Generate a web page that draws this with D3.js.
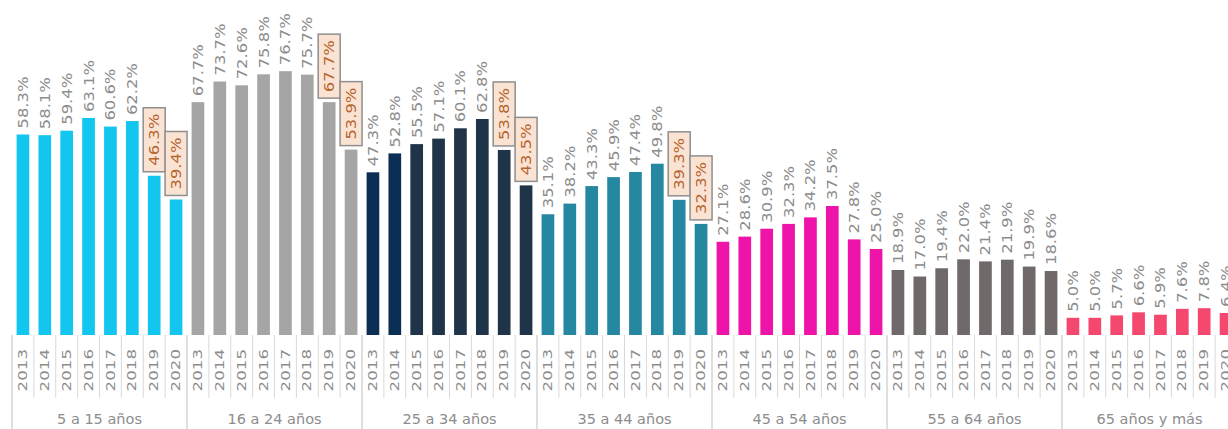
<!DOCTYPE html>
<html>
<head>
<meta charset="utf-8">
<script src="https://cdn.jsdelivr.net/npm/d3@7"></script>
<style>
  html, body { margin: 0; padding: 0; background: #ffffff; }
  svg { display: block; }
  text { font-family: "DejaVu Sans", "Noto Sans", sans-serif; }
</style>
</head>
<body>
<svg id="chart" width="1228" height="429"></svg>
<script>
// Age groups and survey years
const groups = ["5 a 15 años", "16 a 24 años", "25 a 34 años", "35 a 44 años",
                "45 a 54 años", "55 a 64 años", "65 años y más"];
const years = ["2013", "2014", "2015", "2016", "2017", "2018", "2019", "2020"];

// Percentage per year, one array per age group
const age5to15  = [58.3, 58.1, 59.4, 63.1, 60.6, 62.2, 46.3, 39.4];
const age16to24 = [67.7, 73.7, 72.6, 75.8, 76.7, 75.7, 67.7, 53.9];
const age25to34 = [47.3, 52.8, 55.5, 57.1, 60.1, 62.8, 53.8, 43.5];
const age35to44 = [35.1, 38.2, 43.3, 45.9, 47.4, 49.8, 39.3, 32.3];
const age45to54 = [27.1, 28.6, 30.9, 32.3, 34.2, 37.5, 27.8, 25.0];
const age55to64 = [18.9, 17.0, 19.4, 22.0, 21.4, 21.9, 19.9, 18.6];
const age65plus = [5.0, 5.0, 5.7, 6.6, 5.9, 7.6, 7.8, 6.4];
const series = [age5to15, age16to24, age25to34, age35to44, age45to54, age55to64, age65plus];

// Bar colour per age group
const groupColors = ["#12c6ef", "#a5a5a5", "#1f3449", "#2587a0", "#ef14a9", "#6f6969", "#f5486f"];
// The first two years of 25 a 34 años are drawn in a deeper navy
const navyYears25to34 = ["2013", "2014"];

// Labels shown in a highlighted box
const boxedGroups = ["5 a 15 años", "16 a 24 años", "25 a 34 años", "35 a 44 años"];
const boxedYears = ["2019", "2020"];

const rows = [];
groups.forEach((g, gi) => {
  years.forEach((y, yi) => {
    let color = groupColors[gi];
    if (g === "25 a 34 años" && navyYears25to34.includes(y)) color = "#0b2e55";
    rows.push({ group: g, year: y, value: series[gi][yi], color });
  });
});

const svg = d3.select("#chart");
const baseY = 335;

const xGroup = d3.scaleBand().domain(groups).range([12, 1237]).padding(0);
const xYear = d3.scaleBand().domain(years).range([0, xGroup.bandwidth()])
  .paddingInner(0.42).paddingOuter(0.21);
const y = d3.scaleLinear().domain([0, 97.4]).range([baseY, 0]);

const cx = d => xGroup(d.group) + xYear(d.year) + xYear.bandwidth() / 2;
const slot = xGroup.bandwidth() / years.length;

// Category axis: light ticks between years, darker separators between groups
const axis = svg.append("g");
groups.forEach(g => {
  years.forEach((yr, i) => {
    if (i === 0) return;
    const x = xGroup(g) + i * slot;
    axis.append("line")
      .attr("x1", x).attr("x2", x).attr("y1", baseY).attr("y2", 398)
      .attr("stroke", "#d9d9d9").attr("stroke-width", 1);
  });
});
[...groups.map(g => xGroup(g)), xGroup.range()[1]].forEach(x => {
  axis.append("line")
    .attr("x1", x).attr("x2", x).attr("y1", baseY).attr("y2", 429)
    .attr("stroke", "#bfbfbf").attr("stroke-width", 1);
});

// Bars
svg.append("g").selectAll("rect").data(rows).join("rect")
  .attr("x", d => xGroup(d.group) + xYear(d.year))
  .attr("y", d => y(d.value))
  .attr("width", xYear.bandwidth())
  .attr("height", d => baseY - y(d.value))
  .attr("fill", d => d.color);

// Year labels, rotated
svg.append("g").selectAll("text").data(rows).join("text")
  .attr("transform", d => `translate(${cx(d)},${baseY + 14}) rotate(-90) scale(1.45,1)`)
  .attr("text-anchor", "end")
  .attr("dy", "0.36em")
  .attr("font-size", 11.5)
  .attr("fill", "#8c8c8c")
  .text(d => d.year);

// Group labels
svg.append("g").selectAll("text").data(groups).join("text")
  .attr("x", g => xGroup(g) + xGroup.bandwidth() / 2)
  .attr("y", 424)
  .attr("text-anchor", "middle")
  .attr("font-size", 14.5)
  .attr("fill", "#8c8c8c")
  .text(g => g);

// Value labels
const fmt = d => d.value.toFixed(1) + "%";
const isBoxed = d => boxedGroups.includes(d.group) && boxedYears.includes(d.year);
const labelScale = 1.17;

const plain = rows.filter(d => !isBoxed(d));
svg.append("g").selectAll("text").data(plain).join("text")
  .attr("transform", d => `translate(${cx(d)},${y(d.value) - 6}) rotate(-90) scale(${labelScale},1)`)
  .attr("text-anchor", "start")
  .attr("dy", "0.36em")
  .attr("font-size", 14)
  .attr("fill", "#8c8c8c")
  .text(fmt);

const boxed = rows.filter(isBoxed);
const boxG = svg.append("g").selectAll("g").data(boxed).join("g");
const boxW = 22, boxH = 64, gap = 4;
boxG.append("rect")
  .attr("x", d => cx(d) - boxW / 2)
  .attr("y", d => y(d.value) - gap - boxH)
  .attr("width", boxW)
  .attr("height", boxH)
  .attr("fill", "#fbe3d4")
  .attr("stroke", "#8f8f8f")
  .attr("stroke-width", 1.5);
boxG.append("text")
  .attr("transform", d => `translate(${cx(d)},${y(d.value) - gap - boxH / 2}) rotate(-90) scale(${labelScale},1)`)
  .attr("text-anchor", "middle")
  .attr("dy", "0.36em")
  .attr("font-size", 14)
  .attr("fill", "#b5652e")
  .text(fmt);
</script>
</body>
</html>
